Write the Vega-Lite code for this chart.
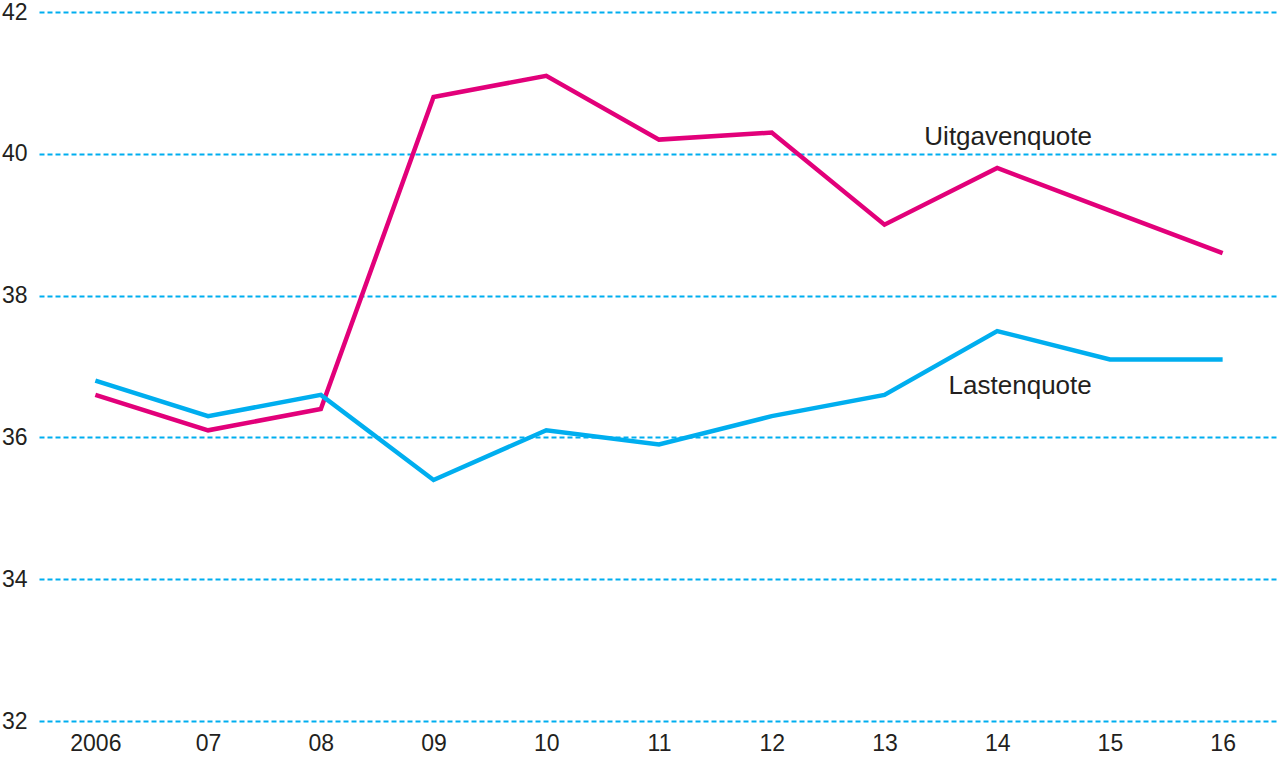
{
  "$schema": "https://vega.github.io/schema/vega-lite/v6.json",
  "width": 1240,
  "height": 709,
  "autosize": {"type": "none"},
  "padding": {"left": 39, "top": 12, "right": 0, "bottom": 37},
  "background": "white",
  "config": {
    "view": {"stroke": null},
    "font": "Liberation Sans"
  },
  "datasets": {
    "series": [
      {"year": "2006", "series": "Uitgavenquote", "value": 36.6},
      {"year": "07", "series": "Uitgavenquote", "value": 36.1},
      {"year": "08", "series": "Uitgavenquote", "value": 36.4},
      {"year": "09", "series": "Uitgavenquote", "value": 40.8},
      {"year": "10", "series": "Uitgavenquote", "value": 41.1},
      {"year": "11", "series": "Uitgavenquote", "value": 40.2},
      {"year": "12", "series": "Uitgavenquote", "value": 40.3},
      {"year": "13", "series": "Uitgavenquote", "value": 39.0},
      {"year": "14", "series": "Uitgavenquote", "value": 39.8},
      {"year": "15", "series": "Uitgavenquote", "value": 39.2},
      {"year": "16", "series": "Uitgavenquote", "value": 38.6},
      {"year": "2006", "series": "Lastenquote", "value": 36.8},
      {"year": "07", "series": "Lastenquote", "value": 36.3},
      {"year": "08", "series": "Lastenquote", "value": 36.6},
      {"year": "09", "series": "Lastenquote", "value": 35.4},
      {"year": "10", "series": "Lastenquote", "value": 36.1},
      {"year": "11", "series": "Lastenquote", "value": 35.9},
      {"year": "12", "series": "Lastenquote", "value": 36.3},
      {"year": "13", "series": "Lastenquote", "value": 36.6},
      {"year": "14", "series": "Lastenquote", "value": 37.5},
      {"year": "15", "series": "Lastenquote", "value": 37.1},
      {"year": "16", "series": "Lastenquote", "value": 37.1}
    ]
  },
  "layer": [
    {
      "data": {"name": "series"},
      "mark": {"type": "line", "strokeWidth": 4.5, "strokeJoin": "miter"},
      "encoding": {
        "x": {
          "field": "year",
          "type": "ordinal",
          "sort": ["2006", "07", "08", "09", "10", "11", "12", "13", "14", "15", "16"],
          "scale": {"type": "point", "padding": 0.5},
          "axis": {
            "title": null,
            "domain": false,
            "ticks": false,
            "grid": false,
            "labelAngle": 0,
            "labelFontSize": 23,
            "labelColor": "#231f20",
            "labelPadding": 11
          }
        },
        "y": {
          "field": "value",
          "type": "quantitative",
          "scale": {"domain": [32, 42], "nice": false, "zero": false},
          "axis": {
            "title": null,
            "domain": false,
            "ticks": false,
            "values": [32, 34, 36, 38, 40, 42],
            "format": "d",
            "grid": true,
            "gridColor": "#00aeef",
            "gridWidth": 2,
            "gridDash": [5, 3],
            "gridOpacity": 1,
            "labelFontSize": 23,
            "labelColor": "#231f20",
            "labelPadding": 12
          }
        },
        "color": {
          "field": "series",
          "type": "nominal",
          "scale": {"domain": ["Uitgavenquote", "Lastenquote"], "range": ["#e2007a", "#00aeef"]},
          "legend": null
        },
        "order": {"field": "series", "sort": "descending"}
      }
    },
    {
      "data": {"values": [{"year": "14", "label": "Uitgavenquote", "value": 40.12}]},
      "mark": {"type": "text", "fontSize": 26, "color": "#231f20", "align": "center", "baseline": "alphabetic", "dx": 11},
      "encoding": {
        "x": {"field": "year", "type": "ordinal", "sort": ["2006", "07", "08", "09", "10", "11", "12", "13", "14", "15", "16"]},
        "y": {"field": "value", "type": "quantitative"},
        "text": {"field": "label"}
      }
    },
    {
      "data": {"values": [{"year": "14", "label": "Lastenquote", "value": 36.61}]},
      "mark": {"type": "text", "fontSize": 26, "color": "#231f20", "align": "center", "baseline": "alphabetic", "dx": 23},
      "encoding": {
        "x": {"field": "year", "type": "ordinal", "sort": ["2006", "07", "08", "09", "10", "11", "12", "13", "14", "15", "16"]},
        "y": {"field": "value", "type": "quantitative"},
        "text": {"field": "label"}
      }
    }
  ]
}
